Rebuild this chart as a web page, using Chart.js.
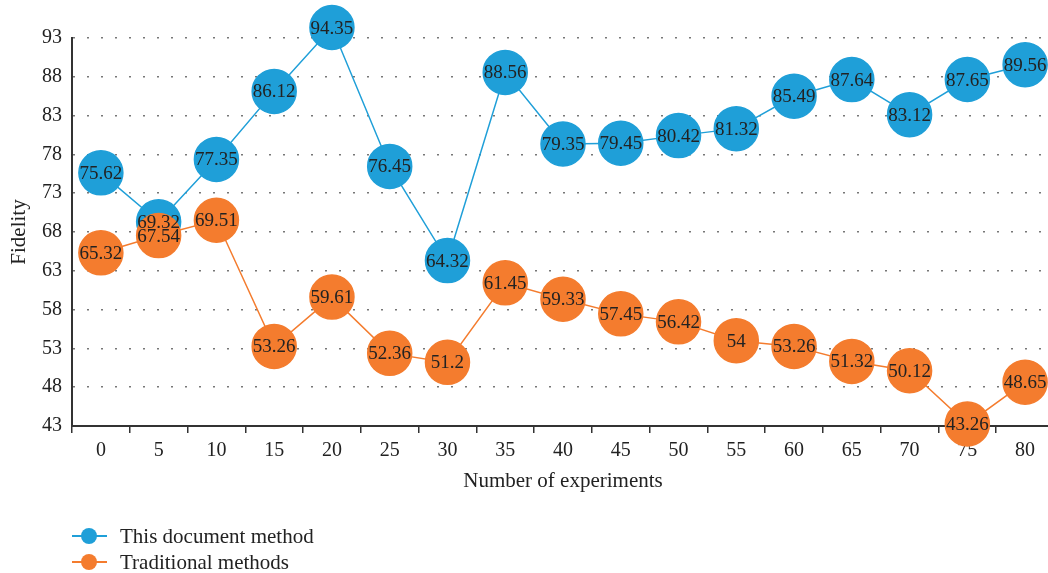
<!DOCTYPE html>
<html>
<head>
<meta charset="utf-8">
<script src="https://cdn.jsdelivr.net/npm/chart.js@4/dist/chart.umd.min.js"></script>
<style>
  html, body { margin: 0; padding: 0; background: #fff; }
  #wrap { position: relative; width: 1048px; height: 573px; overflow: hidden; }
  #legend { position: absolute; left: 72px; top: 523px; font-family: "Liberation Serif", serif; font-size: 21px; color: #222; }
  .item { display: flex; align-items: center; height: 26px; }
  .mark { position: relative; width: 35px; height: 16px; margin-right: 13px; }
  .mark .ln { position: absolute; left: 0; right: 0; top: 7px; height: 2px; }
  .mark .dot { position: absolute; left: 9px; top: 0; width: 16px; height: 16px; border-radius: 50%; }
</style>
</head>
<body>
<div id="wrap">
  <canvas id="chart" width="1054" height="573"></canvas>
  <div id="legend">
    <div class="item"><span class="mark"><span class="ln" style="background:#1f9fd8"></span><span class="dot" style="background:#1f9fd8"></span></span>This document method</div>
    <div class="item"><span class="mark"><span class="ln" style="background:#f47c2e"></span><span class="dot" style="background:#f47c2e"></span></span>Traditional methods</div>
  </div>
</div>
<script>
// experiment counts on the x axis
const experiments = ['0', '5', '10', '15', '20', '25', '30', '35', '40', '45', '50', '55', '60', '65', '70', '75', '80'];
const thisMethod = [75.62, 69.32, 77.35, 86.12, 94.35, 76.45, 64.32, 88.56, 79.35, 79.45, 80.42, 81.32, 85.49, 87.64, 83.12, 87.65, 89.56];
const traditional = [65.32, 67.54, 69.51, 53.26, 59.61, 52.36, 51.2, 61.45, 59.33, 57.45, 56.42, 54, 53.26, 51.32, 50.12, 43.26, 48.65];
const yTicks = [43, 48, 53, 58, 63, 68, 73, 78, 83, 88, 93];

const BLUE = '#1f9fd8';
const ORANGE = '#f47c2e';
const FONT = '"Liberation Serif", "Times New Roman", serif';

// write each value in the middle of its circle, after all circles are drawn
const valueLabels = {
  id: 'valueLabels',
  afterDatasetsDraw(chart) {
    const ctx = chart.ctx;
    ctx.save();
    ctx.font = '19px ' + FONT;
    ctx.fillStyle = '#222';
    ctx.textAlign = 'center';
    ctx.textBaseline = 'middle';
    [0, 1].forEach(i => {
      const meta = chart.getDatasetMeta(i);
      meta.data.forEach((pt, j) => {
        ctx.fillText(String(chart.data.datasets[i].data[j]), pt.x, pt.y + 1);
      });
    });
    ctx.restore();
  }
};

new Chart(document.getElementById('chart'), {
  type: 'line',
  data: {
    labels: experiments,
    datasets: [
      {
        label: 'This document method',
        data: thisMethod,
        borderColor: BLUE,
        backgroundColor: BLUE,
        pointBackgroundColor: BLUE,
        pointBorderColor: BLUE,
        borderWidth: 1.5,
        pointRadius: 22,
        pointHoverRadius: 22,
        clip: false,
        order: 1
      },
      {
        label: 'Traditional methods',
        data: traditional,
        borderColor: ORANGE,
        backgroundColor: ORANGE,
        pointBackgroundColor: ORANGE,
        pointBorderColor: ORANGE,
        borderWidth: 1.5,
        pointRadius: 22,
        pointHoverRadius: 22,
        clip: false,
        order: 0
      }
    ]
  },
  options: {
    responsive: false,
    animation: false,
    layout: { autoPadding: false, padding: { top: 38, right: 0, bottom: 76, left: 0 } },
    plugins: {
      legend: { display: false },
      tooltip: { enabled: false }
    },
    scales: {
      x: {
        offset: true,
        afterFit: s => { s.height = 71; },
        grid: { display: true, drawOnChartArea: false, drawTicks: true, offset: true, tickLength: 7, color: '#333', lineWidth: 1.5 },
        border: { display: true, color: '#333', width: 2 },
        ticks: { color: '#222', font: { family: FONT, size: 20 }, padding: 6, maxRotation: 0 },
        title: { display: true, text: 'Number of experiments', color: '#222', font: { family: FONT, size: 21 }, padding: { top: 0, bottom: 3 } }
      },
      y: {
        min: 43,
        max: 93,
        afterFit: s => { s.width = 72; },
        afterBuildTicks: s => { s.ticks = yTicks.map(v => ({ value: v })); },
        grid: { drawTicks: false, color: '#777', lineWidth: 1.5, tickLength: 0 },
        border: { display: true, color: '#333', width: 2, dash: [2, 12] },
        ticks: { color: '#222', font: { family: FONT, size: 20 }, padding: 10 },
        title: { display: true, text: 'Fidelity', color: '#222', font: { family: FONT, size: 21 }, padding: { top: 7, bottom: 0 } }
      }
    }
  },
  plugins: [valueLabels]
});
</script>
</body>
</html>
